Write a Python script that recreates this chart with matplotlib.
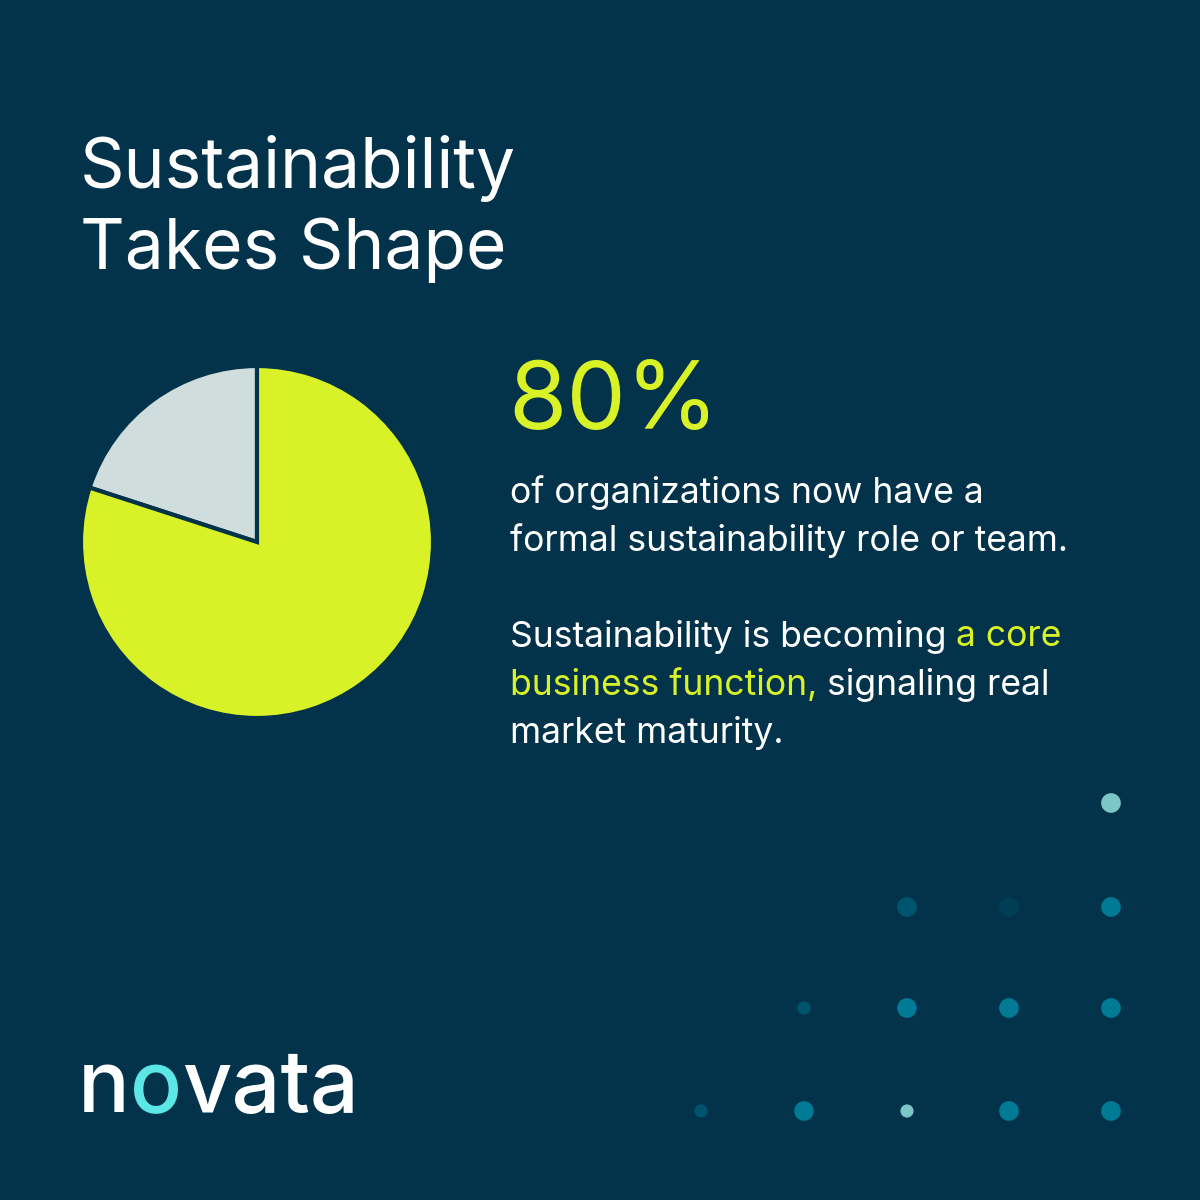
import matplotlib
matplotlib.use("Agg")
import matplotlib.pyplot as plt

BG = "#02334B"
YELLOW = "#D9F227"
GREY = "#CFDDDD"

share_labels = ["With role or team", "Without"]
share_values = [80, 20]

headline = "80%"
title_lines = ["Sustainability", "Takes Shape"]

dot_x = [701, 804, 907, 1009, 1111]
dot_rows = {
    803: [None, None, None, None, "#7CC6C8"],
    907: [None, None, "#00546E", "#013E56", "#007A95"],
    1008: [None, "#00546E", "#007A95", "#007A95", "#007A95"],
    1111: ["#00546E", "#007A95", "#7CC6C8", "#007A95", "#007A95"],
}
dot_small = {(1008, 1), (1111, 0), (1111, 2)}

plt.rcParams["font.family"] = ["Inter", "DejaVu Sans"]

fig = plt.figure(figsize=(12, 12), dpi=100, facecolor=BG)
ax = fig.add_axes([0, 0, 1, 1])
ax.set_facecolor(BG)

# title
ax.text(80, 168, title_lines[0], color="white", fontsize=50, va="center", ha="left")
ax.text(80, 250, title_lines[1], color="white", fontsize=50, va="center", ha="left")

# pie (y axis is inverted, so go the other way round)
ax.pie(share_values[::-1], colors=[GREY, YELLOW], startangle=-90, counterclock=False,
       center=(257, 542), radius=176, frame=True,
       wedgeprops=dict(edgecolor=BG, linewidth=3))
ax.set_xlim(0, 1200)
ax.set_ylim(1200, 0)
ax.set_aspect("equal")
ax.axis("off")

ax.text(508, 405, headline, color=YELLOW, fontsize=68, va="center", ha="left")

body = dict(fontsize=25.6, va="center", ha="left")
ax.text(510, 493, "of organizations now have a", color="white", **body)
ax.text(510, 541, "formal sustainability role or team.", color="white", **body)

renderer = fig.canvas.get_renderer()


def pieces(x, y, parts):
    for txt, col in parts:
        t = ax.text(x, y, txt, color=col, **body)
        x += t.get_window_extent(renderer).width


pieces(510, 637, [("Sustainability is becoming ", "white"), ("a core", YELLOW)])
pieces(510, 685, [("business function, ", YELLOW), ("signaling real", "white")])
ax.text(510, 733, "market maturity.", color="white", **body)

# dots
for y, cols in dot_rows.items():
    for i, c in enumerate(cols):
        if c is None:
            continue
        s = 90 if (y, i) in dot_small else 200
        ax.scatter(dot_x[i], y, s=s, color=c, edgecolors="none")

# logo
lx = 78
for txt, col in [("n", "white"), ("o", "#5CE6E6"), ("vata", "white")]:
    t = ax.text(lx, 1090, txt, color=col, fontsize=62, va="center", ha="left", fontweight="medium")
    lx += t.get_window_extent(renderer).width

fig.savefig("out.png", dpi=100, facecolor=BG)
